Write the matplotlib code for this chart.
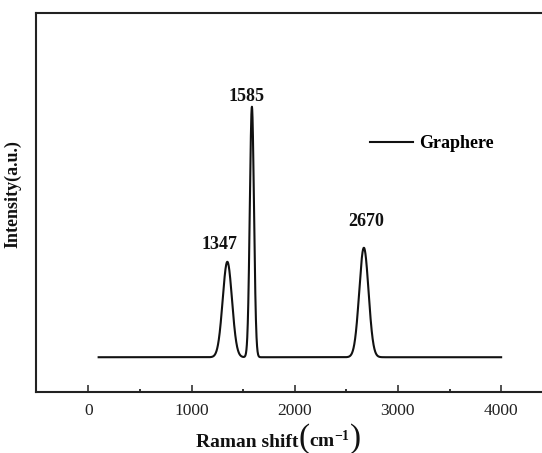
import numpy as np
import matplotlib
matplotlib.use('Agg')
import matplotlib.pyplot as plt
from matplotlib.offsetbox import TextArea, HPacker, AnnotationBbox

plt.rcParams['font.family'] = ['Liberation Serif', 'DejaVu Serif']
plt.rcParams['mathtext.fontset'] = 'custom'
plt.rcParams['mathtext.rm'] = 'Liberation Serif:bold'
plt.rcParams['mathtext.bf'] = 'Liberation Serif:bold'
plt.rcParams['mathtext.it'] = 'Liberation Serif:bold'

# Raman bands: D, G and 2D peaks of the graphene sample.
peak_pos = [1347, 1585, 2670]
peak_height = [0.381, 1.0, 0.437]
peak_sigma = [45, 20, 45]
peak_labels = ['1347', '1585', '2670']

shift = np.linspace(100, 4000, 3901)
intensity = np.zeros_like(shift)
for c, h, s in zip(peak_pos, peak_height, peak_sigma):
    intensity += h * np.exp(-0.5 * ((shift - c) / s) ** 2)

fig = plt.figure(figsize=(5.42, 4.53), dpi=100)
ax = fig.add_axes([36 / 542, 60.7 / 453, 1 - 36 / 542, (392.3 - 13.3) / 453])

line, = ax.plot(shift, intensity, color='#111111', lw=1.5, label='Graphere')

# peak labels sit a little above each maximum
offsets = [(-74, 0.07), (-57, 0.04), (19, 0.104)]
for c, h, lab, (dx, dy) in zip(peak_pos, peak_height, peak_labels, offsets):
    ax.text(c + dx, h + dy, lab, ha='center', va='center',
            fontsize=13, fontweight='bold', color='#111111')

ax.set_xlim(-507, 4396)
ax.set_ylim(-0.14, 1.373)
ax.set_xticks([0, 1000, 2000, 3000, 4000])
ax.set_xticks([500, 1500, 2500, 3500], minor=True)
ax.set_yticks([])

ax.spines['right'].set_visible(False)
for sp in ['left', 'bottom', 'top']:
    ax.spines[sp].set_linewidth(1.5)
    ax.spines[sp].set_color('#222222')

ax.tick_params(axis='x', which='major', direction='in', length=5, width=1.1,
               labelsize=12.5, pad=8, colors='#222222')
ax.tick_params(axis='x', which='minor', direction='in', length=2.5, width=1.1)

# x label built from pieces so the brackets can be drawn taller
bold = dict(fontsize=14, fontweight='bold', color='#111111')
paren = dict(fontsize=24, color='#111111')
parts = [TextArea('Raman shift', textprops=bold),
         TextArea('(', textprops=paren),
         TextArea(r'cm$^{\mathrm{-1}}$', textprops=bold),
         TextArea(')', textprops=paren)]
xlab = HPacker(children=parts, align='baseline', pad=0, sep=0)
fig.add_artist(AnnotationBbox(xlab, (278.5 / 542, 1 - 439 / 453),
                              xycoords='figure fraction', frameon=False,
                              box_alignment=(0.5, 0.5)))

ax.set_ylabel('Intensity(a.u.)', fontsize=13, fontweight='bold', color='#111111')
ax.yaxis.set_label_coords((21.7 - 36) / 506, (392.3 - 194) / 379)

ax.legend(handles=[line], loc='center left', frameon=False,
          bbox_to_anchor=(370 / 542, 1 - 143.5 / 453),
          bbox_transform=fig.transFigure, borderpad=0, borderaxespad=0,
          handlelength=2.4, handletextpad=0.3,
          prop={'size': 13, 'weight': 'bold'})

fig.savefig('out.png', dpi=100)
